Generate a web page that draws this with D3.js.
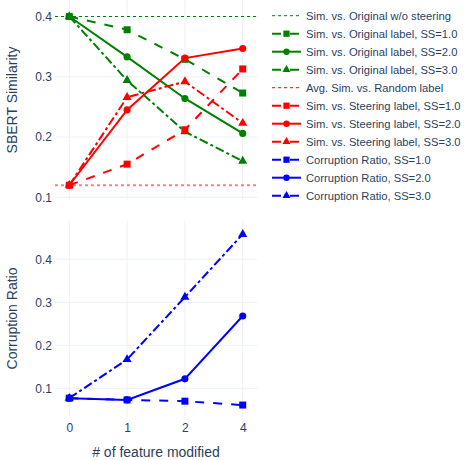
<!DOCTYPE html>
<html>
<head>
<meta charset="utf-8">
<script src="https://cdn.jsdelivr.net/npm/d3@7"></script>
<style>
  body { margin: 0; background: #fff; }
  #chart { width: 464px; height: 460px; }
  text { font-family: "Liberation Sans", Arial, sans-serif; fill: #2a3f5f; }
</style>
</head>
<body>
<div id="chart"></div>
<script>
// x categories (# of feature modified)
const categories = ['0', '1', '2', '4'];

// reference levels
const simOriginalNoSteer = 0.4;
const avgSimRandom = 0.12;

// Sim. vs. Original label
const simOrig1 = [0.400, 0.378, 0.329, 0.273];
const simOrig2 = [0.400, 0.333, 0.264, 0.206];
const simOrig3 = [0.400, 0.294, 0.209, 0.160];

// Sim. vs. Steering label
const simSteer1 = [0.120, 0.155, 0.212, 0.313];
const simSteer2 = [0.120, 0.245, 0.331, 0.347];
const simSteer3 = [0.120, 0.266, 0.292, 0.223];

// Corruption ratio
const corrupt1 = [0.077, 0.073, 0.070, 0.061];
const corrupt2 = [0.077, 0.073, 0.122, 0.268];
const corrupt3 = [0.077, 0.167, 0.312, 0.458];

const topTicks = [0.1, 0.2, 0.3, 0.4];
const bottomTicks = [0.1, 0.2, 0.3, 0.4];

const dashes = { solid: null, dash: '9,9', dashdot: '9,3,3,3', dot: '3,3' };

const series = [
  { name: 'Sim. vs. Original label, SS=1.0', panel: 'top', color: 'green', dash: 'dash', symbol: d3.symbolSquare, values: simOrig1 },
  { name: 'Sim. vs. Original label, SS=2.0', panel: 'top', color: 'green', dash: 'solid', symbol: d3.symbolCircle, values: simOrig2 },
  { name: 'Sim. vs. Original label, SS=3.0', panel: 'top', color: 'green', dash: 'dashdot', symbol: d3.symbolTriangle, values: simOrig3 },
  { name: 'Sim. vs. Steering label, SS=1.0', panel: 'top', color: 'red', dash: 'dash', symbol: d3.symbolSquare, values: simSteer1 },
  { name: 'Sim. vs. Steering label, SS=2.0', panel: 'top', color: 'red', dash: 'solid', symbol: d3.symbolCircle, values: simSteer2 },
  { name: 'Sim. vs. Steering label, SS=3.0', panel: 'top', color: 'red', dash: 'dashdot', symbol: d3.symbolTriangle, values: simSteer3 },
  { name: 'Corruption Ratio, SS=1.0', panel: 'bottom', color: 'blue', dash: 'dash', symbol: d3.symbolSquare, values: corrupt1 },
  { name: 'Corruption Ratio, SS=2.0', panel: 'bottom', color: 'blue', dash: 'solid', symbol: d3.symbolCircle, values: corrupt2 },
  { name: 'Corruption Ratio, SS=3.0', panel: 'bottom', color: 'blue', dash: 'dashdot', symbol: d3.symbolTriangle, values: corrupt3 }
];

const legendItems = [
  { name: 'Sim. vs. Original w/o steering', color: 'green', dash: 'dot', width: 1 },
  series[0], series[1], series[2],
  { name: 'Avg. Sim. vs. Random label', color: 'red', dash: 'dot', width: 1 },
  series[3], series[4], series[5],
  series[6], series[7], series[8]
];

const symbolArea = s => s === d3.symbolSquare ? 49 : s === d3.symbolCircle ? 40 : 36;

const svg = d3.select('#chart').append('svg')
  .attr('width', 464).attr('height', 460);

const left = 55, right = 257;
const x = d3.scalePoint().domain(categories).range([left, right]).padding(0.247);

const panels = {
  top: { y: d3.scaleLinear().domain([0.0955, 0.4274]).range([200, 0]), ticks: topTicks, title: 'SBERT Similarity' },
  bottom: { y: d3.scaleLinear().domain([0.0344, 0.490]).range([416.5, 220.5]), ticks: bottomTicks, title: 'Corruption Ratio' }
};

Object.entries(panels).forEach(([key, p]) => {
  const [y1, y0] = p.y.range();
  const g = svg.append('g');

  // grid
  g.selectAll('.vg').data(categories).enter().append('line')
    .attr('x1', d => x(d)).attr('x2', d => x(d))
    .attr('y1', y0).attr('y2', y1)
    .attr('stroke', '#ebf0f8').attr('stroke-width', 1);
  g.selectAll('.hg').data(p.ticks).enter().append('line')
    .attr('x1', left).attr('x2', right)
    .attr('y1', d => p.y(d)).attr('y2', d => p.y(d))
    .attr('stroke', '#ebf0f8').attr('stroke-width', 1);

  // y axis
  const ya = g.append('g').attr('transform', `translate(${left},0)`)
    .call(d3.axisLeft(p.y).tickValues(p.ticks).tickFormat(d3.format('.1f')).tickSize(0).tickPadding(3));
  ya.select('.domain').remove();
  ya.selectAll('text').attr('font-size', 12).style('font-family', '"Liberation Sans", Arial, sans-serif').attr('fill', '#2a3f5f');

  g.append('text')
    .attr('transform', `translate(17,${(y0 + y1) / 2}) rotate(-90)`)
    .attr('text-anchor', 'middle').attr('font-size', 14)
    .text(p.title);
});

// x axis on bottom panel
const xa = svg.append('g').attr('transform', 'translate(0,416.5)')
  .call(d3.axisBottom(x).tickSize(0).tickPadding(7));
xa.select('.domain').remove();
xa.selectAll('text').attr('font-size', 12).style('font-family', '"Liberation Sans", Arial, sans-serif').attr('fill', '#2a3f5f');

svg.append('text')
  .attr('x', (left + right) / 2).attr('y', 456.5)
  .attr('text-anchor', 'middle').attr('font-size', 14)
  .text('# of feature modified');

// reference lines (top panel)
const yt = panels.top.y;
svg.append('line')
  .attr('x1', left).attr('x2', right)
  .attr('y1', yt(simOriginalNoSteer)).attr('y2', yt(simOriginalNoSteer))
  .attr('stroke', 'green').attr('stroke-width', 1).attr('stroke-dasharray', dashes.dot);
svg.append('line')
  .attr('x1', left).attr('x2', right)
  .attr('y1', yt(avgSimRandom)).attr('y2', yt(avgSimRandom))
  .attr('stroke', 'red').attr('stroke-opacity', 0.5).attr('stroke-width', 2).attr('stroke-dasharray', dashes.dot);

// series
series.forEach(s => {
  const y = panels[s.panel].y;
  const pts = categories.map((c, i) => [x(c), y(s.values[i])]);
  svg.append('path')
    .attr('d', d3.line()(pts))
    .attr('fill', 'none')
    .attr('stroke', s.color).attr('stroke-width', 2)
    .attr('stroke-dasharray', dashes[s.dash]);
  svg.selectAll(null).data(pts).enter().append('path')
    .attr('transform', d => `translate(${d[0]},${d[1]})`)
    .attr('d', d3.symbol().type(s.symbol).size(symbolArea(s.symbol)))
    .attr('fill', s.color);
});

// legend
const lg = svg.append('g').attr('transform', 'translate(272,15.7)');
legendItems.forEach((it, i) => {
  const row = lg.append('g').attr('transform', `translate(0,${i * 18})`);
  row.append('line')
    .attr('x1', 0).attr('x2', 29).attr('y1', 0).attr('y2', 0)
    .attr('stroke', it.color).attr('stroke-width', it.width || 2)
    .attr('stroke-dasharray', dashes[it.dash]);
  if (it.symbol) {
    row.append('path')
      .attr('transform', 'translate(14.5,0)')
      .attr('d', d3.symbol().type(it.symbol).size(symbolArea(it.symbol) * 0.8))
      .attr('fill', it.color);
  }
  row.append('text')
    .attr('x', 34).attr('y', 4)
    .attr('font-size', 11.2)
    .text(it.name);
});
</script>
</body>
</html>
